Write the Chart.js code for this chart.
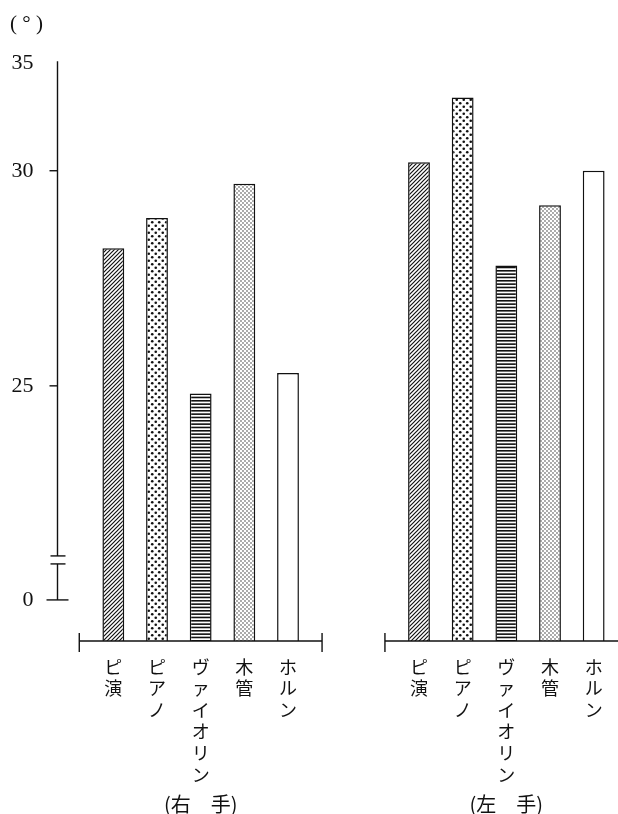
<!DOCTYPE html>
<html>
<head>
<meta charset="utf-8">
<script src="https://cdn.jsdelivr.net/npm/chart.js@4/dist/chart.umd.min.js"></script>
<style>
  html, body { margin: 0; padding: 0; background: #fff; }
  #wrap { width: 618px; height: 814px; }
</style>
</head>
<body>
<div id="wrap"><canvas id="c" width="618" height="814"></canvas></div>
<script>
// ---- data ----
const instruments = ['ピ演', 'ピアノ', 'ヴァイオリン', '木管', 'ホルン'];
const groups = ['(右\u3000手)', '(左\u3000手)'];
const rightHand = [28.2, 28.9, 24.1, 29.7, 25.3];
const leftHand = [30.4, 33.4, 27.8, 29.2, 30.0];
const yTicks = [0, 25, 30, 35];
const unitLabel = '( ° )';
const gapSlots = 2;

// ---- piecewise (broken) value scale ----
const LinearScale = Chart.LinearScale || Chart.registry.getScale('linear');
class BrokenScale extends LinearScale {
  _frac(value) {
    const k = this.options.knots;
    if (value <= k[0][0]) return k[0][1];
    for (let i = 1; i < k.length; i++) {
      if (value <= k[i][0]) {
        const [v0, f0] = k[i - 1], [v1, f1] = k[i];
        return f0 + (value - v0) / (v1 - v0) * (f1 - f0);
      }
    }
    return k[k.length - 1][1];
  }
  getPixelForValue(value) {
    return this.getPixelForDecimal(this._frac(value));
  }
  getValueForPixel(pixel) {
    const f = this.getDecimalForPixel(pixel);
    const k = this.options.knots;
    for (let i = 1; i < k.length; i++) {
      if (f <= k[i][1]) {
        const [v0, f0] = k[i - 1], [v1, f1] = k[i];
        return v0 + (f - f0) / (f1 - f0) * (v1 - v0);
      }
    }
    return k[k.length - 1][0];
  }
}
BrokenScale.id = 'broken';
BrokenScale.defaults = LinearScale.defaults;
Chart.register(BrokenScale);

// ---- fill patterns ----
function makePattern(kind) {
  const c = document.createElement('canvas');
  const g = c.getContext('2d');
  const sz = { hatch: [4, 4], dots: [7, 7], lines: [10, 10], fine: [4, 4], plain: [2, 2] }[kind];
  c.width = sz[0]; c.height = sz[1];
  g.fillStyle = '#fff'; g.fillRect(0, 0, c.width, c.height);
  g.fillStyle = '#111'; g.strokeStyle = '#111';
  if (kind === 'hatch') {
    g.lineWidth = 1.2;
    g.beginPath();
    g.moveTo(-1, 5); g.lineTo(5, -1);
    g.moveTo(-1, 1); g.lineTo(1, -1);
    g.moveTo(3, 5); g.lineTo(5, 3);
    g.stroke();
  } else if (kind === 'dots') {
    [[1.75, 1.75], [5.25, 5.25]].forEach(([px, py]) => {
      g.beginPath(); g.arc(px, py, 1.3, 0, Math.PI * 2); g.fill();
    });
  } else if (kind === 'lines') {
    for (let i = 0; i < 3; i++) g.fillRect(0, i * 10 / 3, 10, 1.6);
  } else if (kind === 'fine') {
    [[1, 1], [3, 3]].forEach(([px, py]) => {
      g.beginPath(); g.arc(px, py, 0.65, 0, Math.PI * 2); g.fill();
    });
  }
  return document.getElementById('c').getContext('2d').createPattern(c, 'repeat');
}
const patternKinds = ['hatch', 'dots', 'lines', 'fine', 'plain'];
const patterns = patternKinds.map(makePattern);

// ---- build labels / data ----
const labels = [...instruments, ...Array(gapSlots).fill(''), ...instruments];
const values = [...rightHand, ...Array(gapSlots).fill(null), ...leftHand];
const fills = labels.map((l, i) => {
  const idx = instruments.indexOf(l);
  return idx >= 0 ? patterns[idx] : '#fff';
});
const yMin = -5;

const serif = '"Liberation Serif", "DejaVu Serif", serif';
const jp = '"Noto Sans CJK JP", "Noto Sans", sans-serif';

const paperAxes = {
  id: 'paperAxes',
  afterDraw(chart) {
    const { ctx, chartArea } = chart;
    const x = chart.scales.x, y = chart.scales.y;
    const line = (x0, y0, x1, y1) => { ctx.beginPath(); ctx.moveTo(x0, y0); ctx.lineTo(x1, y1); ctx.stroke(); };
    ctx.save();
    ctx.strokeStyle = '#111';
    ctx.lineWidth = 1.4;
    // y axis with break
    const ax = chartArea.left - 34;
    const top = y.getPixelForValue(yTicks[yTicks.length - 1]) - 2;
    const zero = y.getPixelForValue(0);
    const b1 = zero - 44, b2 = zero - 36;
    line(ax, top, ax, b1);
    line(ax, b2, ax, zero);
    line(ax - 7, b1, ax + 8, b1);
    line(ax - 7, b2, ax + 8, b2);
    line(ax - 11, zero, ax + 11, zero);
    yTicks.filter(v => v !== 0 && v !== yTicks[yTicks.length - 1]).forEach(v => {
      const py = y.getPixelForValue(v);
      line(ax - 8, py, ax, py);
    });
    // x axis per group
    const base = chartArea.bottom;
    ctx.fillStyle = '#111';
    ctx.font = '20px ' + jp;
    ctx.textAlign = 'center';
    ctx.textBaseline = 'middle';
    groups.forEach((gname, gi) => {
      const first = gi * (instruments.length + gapSlots);
      const last = first + instruments.length - 1;
      const x0 = x.getPixelForValue(first - 0.78), x1 = x.getPixelForValue(last + 0.78);
      line(x0, base, x1, base);
      line(x0, base - 8, x0, base + 11);
      line(x1, base - 8, x1, base + 11);
      ctx.fillText(gname, x.getPixelForValue((first + last) / 2), base + 163);
    });
    // unit label
    ctx.font = '21px ' + serif;
    ctx.fillText(unitLabel, ax - 31, 24);
    ctx.restore();
  }
};

new Chart(document.getElementById('c'), {
  type: 'bar',
  data: {
    labels: labels,
    datasets: [{
      data: values,
      base: yMin,
      backgroundColor: fills,
      borderColor: '#111',
      borderWidth: 1.5,
      barPercentage: 0.5,
      categoryPercentage: 1.0
    }]
  },
  options: {
    responsive: false,
    animation: false,
    layout: { padding: { top: 50, right: 2.5, left: 0, bottom: 0 } },
    plugins: { legend: { display: false }, tooltip: { enabled: false }, title: { display: false } },
    scales: {
      x: {
        type: 'category',
        grid: { display: false },
        border: { display: false },
        ticks: {
          autoSkip: false, maxRotation: 0, minRotation: 0,
          padding: 7,
          color: '#111',
          font: { family: jp, size: 18, lineHeight: 1.2 },
          callback: function (v, i) { const l = labels[i]; return l ? Array.from(l) : ''; }
        },
        afterFit: (s) => { s.height = 173; }
      },
      y: {
        type: 'broken',
        min: yMin,
        max: 35,
        knots: [[yMin, 0], [0, 0.0711], [25, 0.4416], [30, 0.8139], [35, 1]],
        grid: { display: false },
        border: { display: false },
        afterBuildTicks: (s) => { s.ticks = yTicks.map(v => ({ value: v })); },
        ticks: {
          padding: 50,
          color: '#111',
          font: { family: serif, size: 22 }
        },
        afterFit: (s) => { s.width = 91.5; }
      }
    }
  },
  plugins: [paperAxes]
});
</script>
</body>
</html>
